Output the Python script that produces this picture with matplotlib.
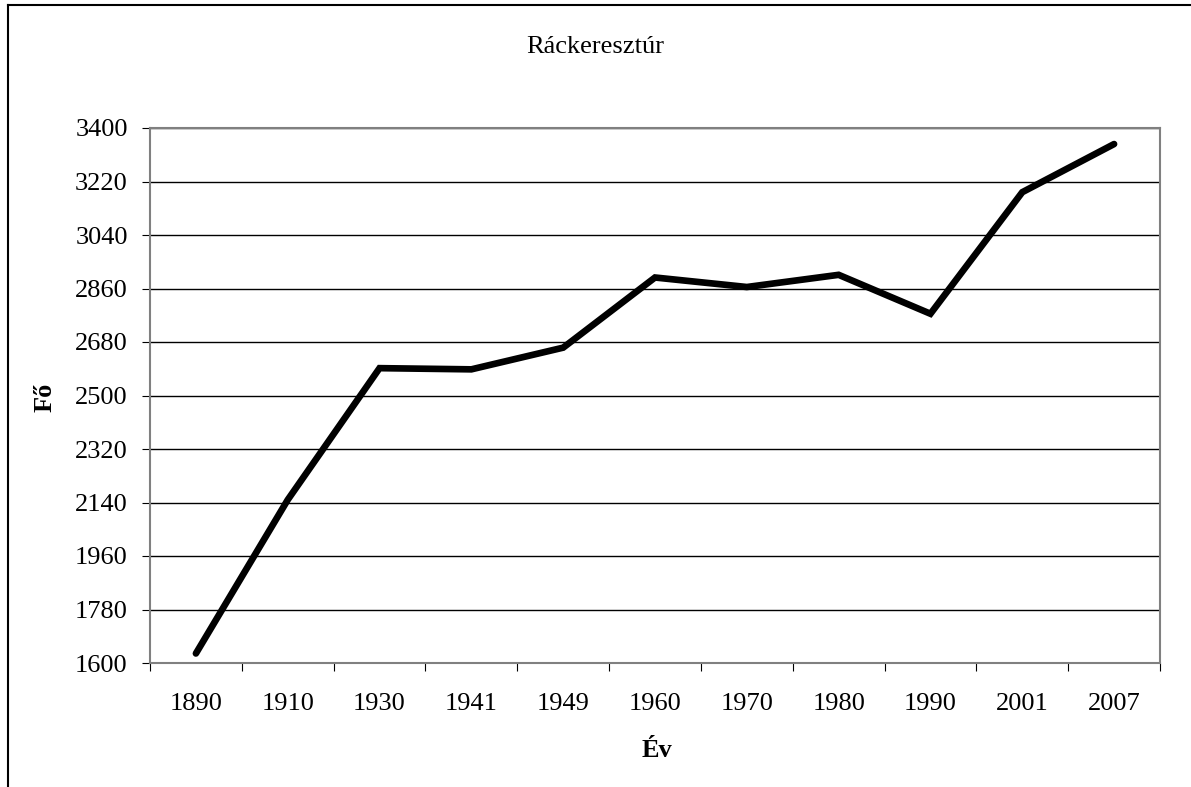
import matplotlib.pyplot as plt
from matplotlib.lines import Line2D

years = ['1890', '1910', '1930', '1941', '1949', '1960', '1970', '1980', '1990', '2001', '2007']
population = [1632, 2149, 2592, 2588, 2661, 2897, 2865, 2906, 2775, 3184, 3346]
yticks = [1600, 1780, 1960, 2140, 2320, 2500, 2680, 2860, 3040, 3220, 3400]

plt.rcParams['font.family'] = ['Liberation Serif', 'DejaVu Serif']

W, H = 1191, 787
fig = plt.figure(figsize=(W / 100, H / 100), dpi=100)
ax = fig.add_axes([150 / W, 1 - 663 / H, (1160 - 150) / W, (663 - 128) / H])

x = list(range(len(years)))
ax.plot(x, population, color='black', linewidth=4.8, solid_capstyle='round', solid_joinstyle='miter')

ax.set_xlim(-0.5, len(years) - 0.5)
ax.set_ylim(1600, 3400)
ax.set_yticks(yticks)
ax.set_yticklabels([str(v) for v in yticks])
ax.yaxis.grid(True, color='black', linewidth=1)
ax.set_axisbelow(True)

# category axis: ticks at boundaries, labels at centers
ax.set_xticks([i - 0.5 for i in range(len(years) + 1)])
ax.set_xticklabels([])
ax.set_xticks(x, minor=True)
ax.set_xticklabels(years, minor=True)
ax.tick_params(axis='x', which='minor', length=0, pad=21.5, labelsize=19)
ax.tick_params(axis='x', which='major', length=6, direction='out', color='black')
ax.tick_params(axis='y', length=6, direction='out', color='black', pad=10, labelsize=19)

for s in ax.spines.values():
    s.set_color('#808080')
    s.set_linewidth(1.5)

fig.text(0.5, 1 - 53 / H, 'Ráckeresztúr', ha='center', va='baseline', fontsize=19)
fig.text(657 / W, 1 - 757 / H, 'Év', ha='center', va='baseline', fontsize=19, fontweight='bold')
fig.text(45 / W, 1 - 397 / H, 'Fő', ha='center', va='center', rotation=90, fontsize=19, fontweight='bold')

# outer chart border (left and top only visible)
fig.add_artist(Line2D([8 / W, 8 / W], [0, 1 - 5 / H], transform=fig.transFigure, color='black', linewidth=1.5))
fig.add_artist(Line2D([8 / W, 1], [1 - 5 / H, 1 - 5 / H], transform=fig.transFigure, color='black', linewidth=1.5))

fig.savefig('out.png', dpi=100)
